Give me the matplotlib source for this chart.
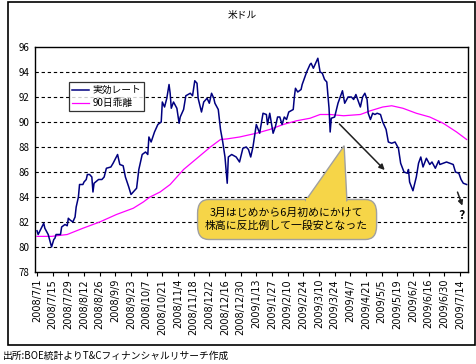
import datetime as dt
import matplotlib
matplotlib.use("Agg")
import matplotlib.pyplot as plt
from matplotlib.patches import FancyBboxPatch, Polygon, Rectangle

plt.rcParams['font.family'] = ['Noto Sans CJK JP', 'DejaVu Sans']

# ---- data: day offsets from 2008/7/1 and values
start_date = dt.date(2008, 7, 1)

rate_days = [0, 1, 6, 7, 10, 13, 15, 16, 17, 21, 22, 25, 27, 28, 29, 32, 34, 35, 37, 38,
             41, 42, 44, 45, 47, 49, 50, 51, 55, 58, 60, 62, 66, 68, 72, 74, 77, 79, 82, 84,
             86, 89, 91, 94, 97, 99, 100, 102, 105, 108, 111, 112, 114, 116, 118, 119, 120, 122, 125, 127,
             128, 131, 133, 137, 139, 141, 143, 144, 147, 149, 152, 154, 156, 158, 159, 162, 164, 166, 168, 170,
             171, 174, 178, 181, 184, 187, 189, 191, 193, 196, 199, 202, 205, 206, 208, 211, 213, 215, 217, 219,
             221, 223, 225, 229, 230, 231, 233, 236, 237, 241, 244, 245, 247, 249, 251, 253, 255, 257, 259, 261,
             262, 263, 266, 269, 271, 273, 275, 278, 281, 283, 285, 289, 291, 293, 295, 296, 298, 300, 302, 304,
             307, 309, 312, 314, 317, 320, 323, 325, 328, 331, 332, 333, 336, 339, 341, 343, 345, 348, 351, 353,
             356, 359, 360, 363, 366, 369, 372, 374, 377, 379, 381, 384]
rate_vals = [81.3, 81.0, 81.9, 81.5, 81.0, 80.0, 80.6, 80.7, 81.0, 81.0, 81.6, 81.8, 81.7, 82.3, 82.2, 82.0, 82.4, 83.2, 84.0, 85.0,
             85.0, 85.2, 85.4, 85.8, 85.8, 85.6, 84.4, 85.1, 85.4, 85.4, 85.6, 86.3, 86.4, 86.7, 87.4, 86.6, 86.5, 85.6, 84.8, 84.2,
             84.4, 84.7, 86.2, 87.4, 87.6, 87.4, 88.8, 88.4, 89.2, 89.8, 90.0, 91.6, 91.2, 91.9, 93.0, 92.3, 91.1, 91.6, 91.1, 89.9,
             90.4, 91.0, 92.1, 92.3, 92.1, 93.3, 93.1, 91.9, 90.8, 91.6, 91.9, 91.5, 92.3, 91.9, 91.5, 91.0, 89.4, 88.4, 87.2, 85.1,
             87.2, 87.4, 87.2, 86.8, 87.9, 88.0, 87.8, 87.2, 88.0, 89.8, 89.1, 90.7, 90.6, 89.8, 90.7, 89.1, 89.6, 90.4, 90.4, 89.8,
             90.4, 90.2, 90.8, 91.0, 92.0, 92.7, 92.4, 92.6, 93.0, 94.0, 94.6, 94.7, 94.3, 94.7, 95.1, 94.0, 93.9, 93.4, 93.2, 91.1,
             89.2, 90.3, 90.4, 91.5, 92.0, 92.5, 91.5, 92.0, 92.0, 91.8, 92.2, 91.2, 92.0, 92.3, 91.8, 90.7, 90.2, 90.7, 90.6, 90.7,
             90.6, 90.0, 89.4, 88.4, 88.3, 88.4, 87.9, 86.7, 86.0, 85.9, 86.2, 85.2, 84.5, 85.6, 86.7, 87.2, 86.4, 87.1, 86.6, 86.8,
             86.3, 86.9, 86.6, 86.7, 86.8, 86.7, 86.6, 86.0, 85.9, 85.4, 85.1, 85.0]

dev_days = [0, 13, 27, 41, 56, 71, 86, 95, 101, 110, 119, 131, 143, 155, 164, 170, 181, 196, 208, 220,
            232, 244, 253, 262, 274, 289, 298, 309, 317, 327, 339, 351, 363, 375, 384]
dev_vals = [80.85, 80.85, 81.0, 81.5, 82.0, 82.6, 83.1, 83.6, 84.0, 84.4, 85.0, 86.2, 87.1, 88.0, 88.6, 88.65, 88.8, 89.1, 89.4, 89.8,
            90.1, 90.3, 90.6, 90.6, 90.5, 90.6, 90.9, 91.2, 91.3, 91.1, 90.7, 90.4, 89.9, 89.2, 88.6]

series_names = ['実効レート', '90日乖離']
y_ticks = list(range(78, 97, 2))
tick_days = list(range(0, 379, 14))
tick_labels = []
for d in tick_days:
    day = start_date + dt.timedelta(days=d)
    tick_labels.append(f"{day.year}/{day.month}/{day.day}")

title_text = '米ドル'
note_text = '3月はじめから6月初めにかけて\n株高に反比例して一段安となった'
source_text = '出所:BOE統計よりT&Cフィナンシャルリサーチ作成'

# ---- figure
fig = plt.figure(figsize=(4.77, 3.64), dpi=100)
ax = fig.add_axes([35/477, 1 - 272/364, (468 - 35)/477, (272 - 47)/364])

ax.plot(rate_days, rate_vals, color='#000080', lw=1.1, label=series_names[0], zorder=3)
ax.plot(dev_days, dev_vals, color='#ff00ff', lw=0.9, label=series_names[1], zorder=2)

ax.set_xlim(-1.8, 385.2)
ax.set_ylim(78, 96)
ax.set_yticks(y_ticks)
ax.set_yticklabels([str(v) for v in y_ticks], fontsize=7)
ax.set_xticks(tick_days)
ax.set_xticklabels(tick_labels, rotation=90, fontsize=7, family='DejaVu Sans')
ax.tick_params(axis='x', length=3, width=0.8, pad=2, direction='out')
ax.tick_params(axis='y', length=0, pad=4)
for v in y_ticks[1:-1]:
    ax.axhline(v, color='black', lw=0.8, ls=(0, (3, 2.5)), zorder=1)
for s in ax.spines.values():
    s.set_linewidth(1.0)
    s.set_color('black')

leg = ax.legend(loc='upper left', bbox_to_anchor=((69 - 35)/433, 1 - (82 - 47)/225),
                fontsize=7, frameon=True, fancybox=False, handlelength=1.8,
                borderpad=0.3, labelspacing=0.35, handletextpad=0.3, borderaxespad=0)
leg.get_frame().set_edgecolor('black')
leg.get_frame().set_linewidth(0.9)

# callout
box = FancyBboxPatch((143.5, 80.6), 160, 3.2, boxstyle='round,pad=0,rounding_size=10',
                     mutation_aspect=0.11, fc='#f6d548', ec='#a0a0a0', lw=1, zorder=5)
ax.add_patch(box)
ax.add_patch(Polygon([(240, 83.7), (277, 83.7), (274.5, 88.1)], closed=True,
                     fc='#f6d548', ec='#a0a0a0', lw=1, zorder=5))
ax.add_patch(Polygon([(240.5, 83.5), (276.5, 83.5), (276.5, 83.9), (240.5, 83.9)], closed=True,
                     fc='#f6d548', ec='none', zorder=6))
ax.text(223, 82.2, note_text, ha='center', va='center', fontsize=7.8, linespacing=1.3, zorder=7)

# arrows
ax.annotate('', xy=(312.5, 86.0), xytext=(268.5, 90.0),
            arrowprops=dict(arrowstyle='-|>', color='#202020', lw=1.1, mutation_scale=8), zorder=4)
ax.annotate('', xy=(381, 83.1), xytext=(375, 84.6),
            arrowprops=dict(arrowstyle='-|>', color='#202020', lw=1.1, mutation_scale=7), zorder=4)
ax.text(379.5, 82.5, '?', ha='center', va='center', fontsize=9, fontweight='bold')

fig.text(242/477, 1 - 15/364, title_text, ha='center', va='center', fontsize=7)
fig.text(3/477, 1 - 356/364, source_text, ha='left', va='center', fontsize=7)
fig.add_artist(Rectangle((8/477, 1 - 345/364), (475 - 8)/477, (345 - 2)/364,
                         transform=fig.transFigure, fill=False, ec='black', lw=1.2))

fig.savefig('out.png', dpi=100)
